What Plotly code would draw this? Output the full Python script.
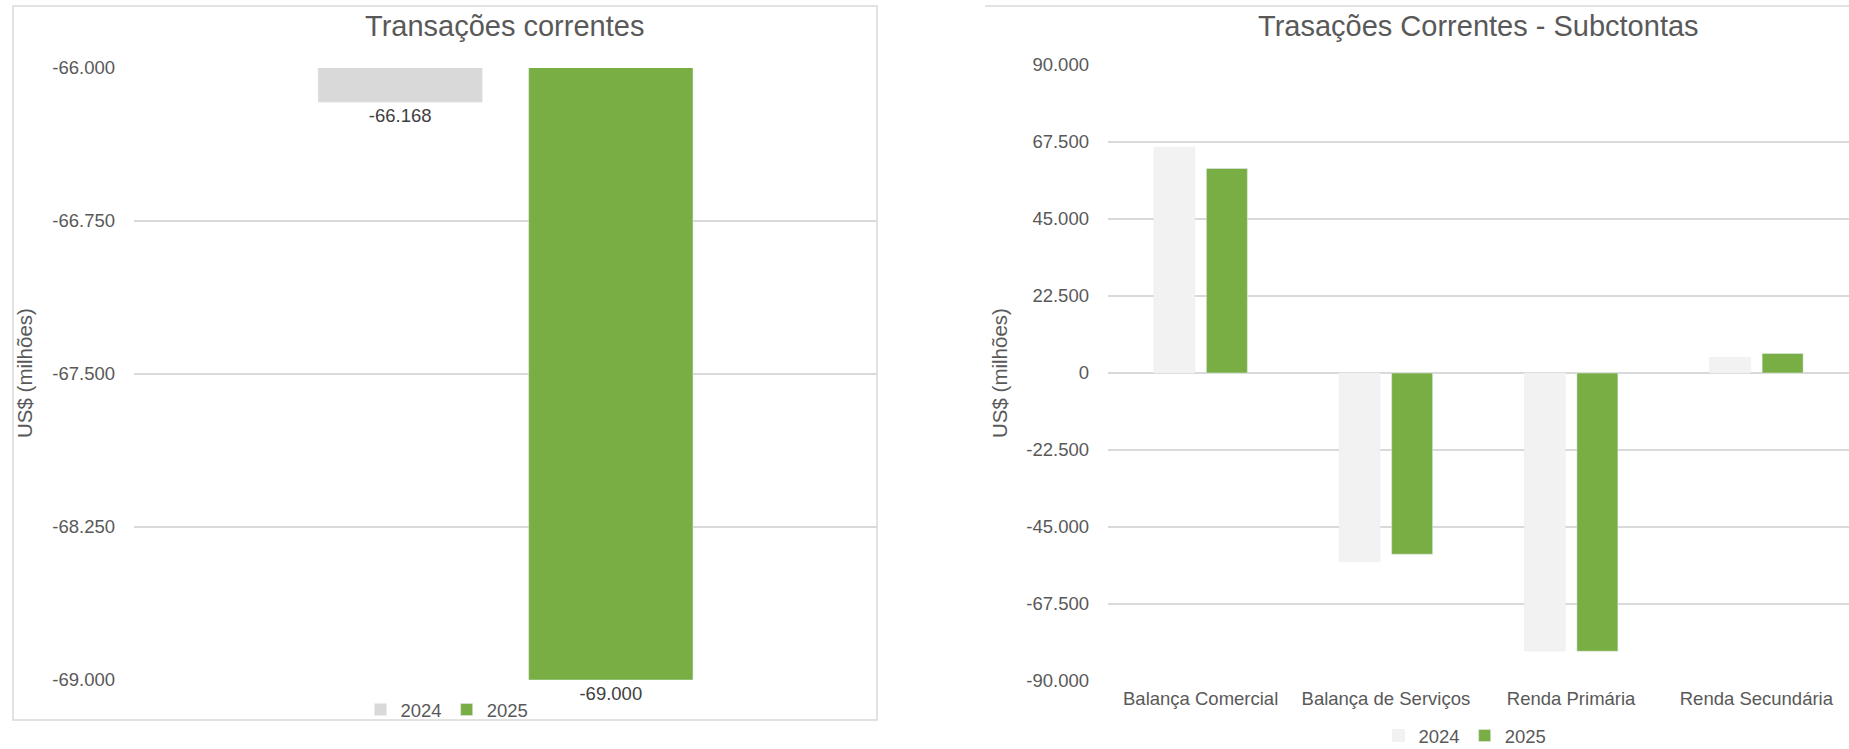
import plotly.graph_objects as go

# Current account totals (US$ millions)
total_category = ["Transações correntes"]
total_2024 = [-66168]
total_2025 = [-69000]
total_ticks = [-69000, -68250, -67500, -66750, -66000]

# Current account sub-accounts (US$ millions)
sub_categories = ["Balança Comercial", "Balança de Serviços", "Renda Primária", "Renda Secundária"]
sub_2024 = [66000, -55150, -81270, 4520]
sub_2025 = [59750, -52960, -81300, 5690]
sub_ticks = [-90000, -67500, -45000, -22500, 0, 22500, 45000, 67500, 90000]

W, H = 1849, 749
FONT = "Liberation Sans, Arial, Helvetica, sans-serif"
TXT = "#595959"
GRID = "#d9d9d9"
GREEN = "#79ae44"


def px(x):
    return x / W


def py(y):
    return 1 - y / H


def br_number(v):
    # pt-BR style: dot as thousands separator, plain hyphen for negatives
    return f"{v:,}".replace(",", ".")


fig = go.Figure()

label_font = dict(size=18.5, color="#404040", family=FONT)

# Left panel: totals
fig.add_trace(go.Bar(
    x=total_category, y=total_2024, name="2024", marker_color="#d9d9d9",
    xaxis="x", yaxis="y", legend="legend",
    text=[br_number(v) for v in total_2024], textposition="outside", cliponaxis=False,
    constraintext="none", textfont=label_font,
))
fig.add_trace(go.Bar(
    x=total_category, y=total_2025, name="2025", marker_color=GREEN,
    xaxis="x", yaxis="y", legend="legend",
    text=[br_number(v) for v in total_2025], textposition="outside", cliponaxis=False,
    constraintext="none", textfont=label_font,
))

# Right panel: sub-accounts
fig.add_trace(go.Bar(
    x=sub_categories, y=sub_2024, name="2024", marker_color="#f2f2f2",
    xaxis="x2", yaxis="y2", legend="legend2",
))
fig.add_trace(go.Bar(
    x=sub_categories, y=sub_2025, name="2025", marker_color=GREEN,
    xaxis="x2", yaxis="y2", legend="legend2",
))

axis_font = dict(size=18.5, color=TXT, family=FONT)

fig.update_layout(
    width=W, height=H,
    margin=dict(l=0, r=0, t=0, b=0, autoexpand=False),
    paper_bgcolor="white", plot_bgcolor="white",
    separators=",.",
    barmode="group", bargap=0.433, bargroupgap=0.22,
    font=dict(family=FONT, color=TXT),
    showlegend=True,
    xaxis=dict(domain=[px(134), px(877)], type="category", showgrid=False,
               showticklabels=False, showline=False, zeroline=False, anchor="y",
               fixedrange=True),
    yaxis=dict(domain=[py(680), py(68)], range=[-69000, -66000], tickvals=total_ticks,
               ticktext=[br_number(v) for v in total_ticks],
               showgrid=True, gridcolor=GRID, gridwidth=2,
               zeroline=False, showline=False, tickfont=axis_font,
               ticklabelstandoff=18, anchor="x", fixedrange=True),
    xaxis2=dict(domain=[px(1108), 1.0], type="category", showgrid=False,
                showline=False, zeroline=False, tickfont=axis_font,
                ticklabelstandoff=4, anchor="y2", fixedrange=True),
    yaxis2=dict(domain=[py(681), py(65)], range=[-90000, 90000], tickvals=sub_ticks,
                ticktext=[br_number(v) for v in sub_ticks],
                showgrid=True, gridcolor=GRID, gridwidth=2,
                zeroline=True, zerolinecolor=GRID, zerolinewidth=2, showline=False,
                tickfont=axis_font, ticklabelstandoff=18, anchor="x2", fixedrange=True),
    legend=dict(orientation="h", x=px(447), xanchor="center", y=py(710), yanchor="middle",
                font=dict(size=18.5, color=TXT, family=FONT), bgcolor="rgba(0,0,0,0)",
                traceorder="normal"),
    legend2=dict(orientation="h", x=px(1465), xanchor="center", y=py(736), yanchor="middle",
                 font=dict(size=18.5, color=TXT, family=FONT), bgcolor="rgba(0,0,0,0)",
                 traceorder="normal"),
    shapes=[
        dict(type="rect", xref="paper", yref="paper", x0=px(13), x1=px(877),
             y0=py(720), y1=py(6), line=dict(color=GRID, width=1.5), layer="below"),
        dict(type="line", xref="paper", yref="paper", x0=px(985), x1=1.0,
             y0=py(6), y1=py(6), line=dict(color=GRID, width=1.5)),
    ],
    annotations=[
        dict(text="Transações correntes", xref="paper", yref="paper", x=px(505), y=py(26),
             xanchor="center", yanchor="middle", showarrow=False,
             font=dict(size=29, color=TXT, family=FONT)),
        dict(text="Trasações Correntes - Subctontas", xref="paper", yref="paper",
             x=px(1478), y=py(26), xanchor="center", yanchor="middle", showarrow=False,
             font=dict(size=29, color=TXT, family=FONT)),
        dict(text="US$ (milhões)", xref="paper", yref="paper", x=px(24), y=py(373),
             xanchor="center", yanchor="middle", textangle=-90, showarrow=False,
             font=dict(size=20.5, color=TXT, family=FONT)),
        dict(text="US$ (milhões)", xref="paper", yref="paper", x=px(999), y=py(373),
             xanchor="center", yanchor="middle", textangle=-90, showarrow=False,
             font=dict(size=20.5, color=TXT, family=FONT)),
    ],
)

fig.write_html("out.html")
